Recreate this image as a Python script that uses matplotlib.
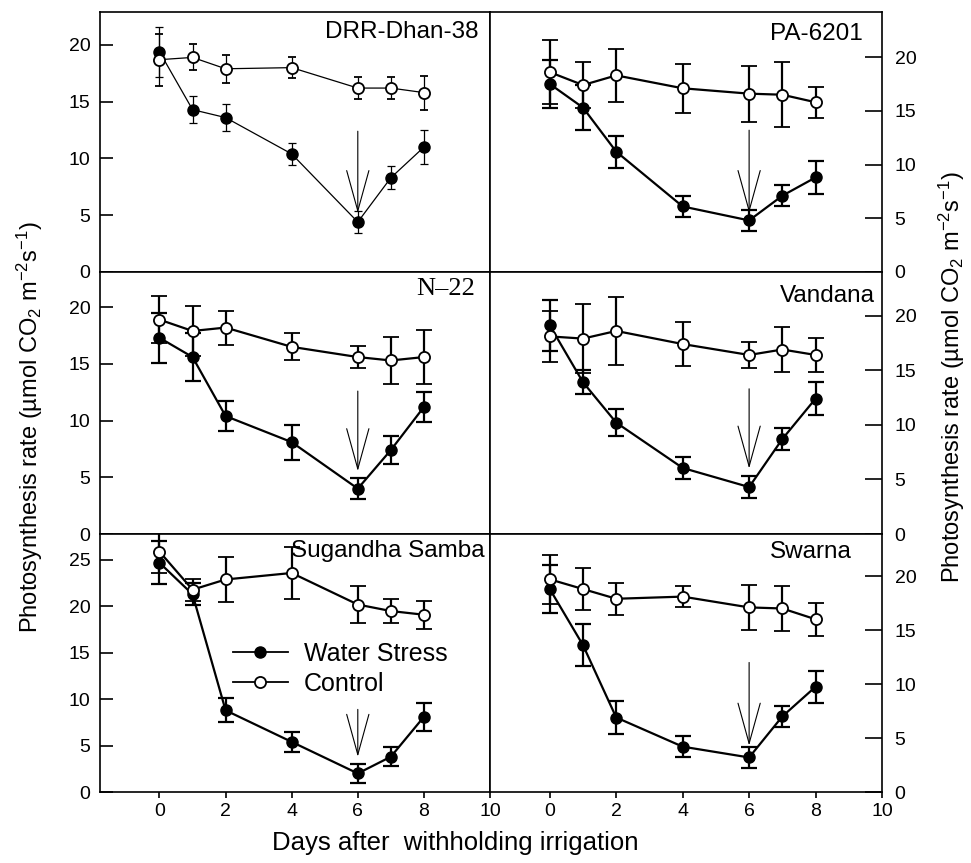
import matplotlib
matplotlib.use('Agg')
import matplotlib.pyplot as plt
from matplotlib.lines import Line2D

plt.rcParams['font.family'] = 'Liberation Sans'
plt.rcParams['mathtext.fontset'] = 'custom'
plt.rcParams['mathtext.rm'] = 'Liberation Sans'
plt.rcParams['mathtext.it'] = 'Liberation Sans:italic'
plt.rcParams['mathtext.default'] = 'regular'

# Sampling days after irrigation was withheld
days = [0, 1, 2, 4, 6, 7, 8]

# DRR-Dhan-38
ws_drr = [19.4, 14.3, 13.6, 10.4, 4.4, 8.3, 11.0]
ws_drr_err = [2.2, 1.2, 1.2, 1.0, 0.95, 1.0, 1.5]
ct_drr = [18.7, 18.9, 17.9, 18.0, 16.2, 16.2, 15.8]
ct_drr_err = [2.3, 1.15, 1.25, 0.95, 1.0, 1.0, 1.5]

# PA-6201
ws_pa = [17.5, 15.3, 11.2, 6.1, 4.8, 7.1, 8.8]
ws_pa_err = [2.2, 2.1, 1.5, 1.0, 1.0, 1.0, 1.5]
ct_pa = [18.6, 17.4, 18.3, 17.1, 16.6, 16.5, 15.8]
ct_pa_err = [3.0, 2.1, 2.45, 2.3, 2.6, 3.0, 1.45]

# N-22
ws_n22 = [17.3, 15.6, 10.4, 8.1, 4.0, 7.4, 11.2]
ws_n22_err = [2.2, 2.1, 1.3, 1.55, 0.95, 1.2, 1.3]
ct_n22 = [18.9, 17.9, 18.2, 16.5, 15.6, 15.3, 15.6]
ct_n22_err = [2.1, 2.2, 1.5, 1.2, 1.0, 2.1, 2.4]

# Vandana
ws_van = [19.1, 13.9, 10.2, 6.05, 4.3, 8.7, 12.4]
ws_van_err = [2.3, 1.1, 1.25, 1.0, 1.0, 1.0, 1.5]
ct_van = [18.1, 17.9, 18.6, 17.4, 16.4, 16.9, 16.4]
ct_van_err = [2.3, 3.15, 3.1, 2.0, 1.2, 2.1, 1.6]

# Sugandha Samba
ws_sug = [24.7, 21.3, 8.8, 5.4, 2.0, 3.8, 8.1]
ws_sug_err = [2.3, 1.2, 1.3, 1.1, 1.0, 1.0, 1.5]
ct_sug = [25.9, 21.8, 22.9, 23.6, 20.2, 19.5, 19.1]
ct_sug_err = [2.35, 1.2, 2.4, 2.75, 1.95, 1.3, 1.5]

# Swarna
ws_swa = [18.8, 13.6, 6.9, 4.2, 3.2, 7.0, 9.75]
ws_swa_err = [2.25, 1.95, 1.5, 1.0, 1.0, 1.0, 1.5]
ct_swa = [19.7, 18.8, 17.9, 18.1, 17.1, 17.0, 16.0]
ct_swa_err = [2.3, 1.95, 1.5, 1.0, 2.05, 2.1, 1.55]

# Arrow marking day 6 (start -> tip), one per variety
arrow_day = 6
arrow_start = [12.4, 13.2, 12.6, 13.3, 8.9, 12.0]
arrow_tip = [5.2, 5.5, 5.55, 6.0, 3.8, 4.3]

names = ['DRR-Dhan-38', 'PA-6201', 'N\u201322', 'Vandana', 'Sugandha Samba', 'Swarna']
ymax = [22.9, 24.2, 23.1, 24.0, 27.8, 23.9]

W, H = 971, 863
fig = plt.figure(figsize=(W / 100, H / 100), dpi=100)


def px_box(x0, y0, x1, y1):
    return [x0 / W, 1 - y1 / H, (x1 - x0) / W, (y1 - y0) / H]


boxes = [(100, 12, 490, 272), (490, 12, 882, 272),
         (100, 272, 490, 534), (490, 272, 882, 534),
         (100, 534, 490, 792), (490, 534, 882, 792)]

series = [(ws_drr, ws_drr_err, ct_drr, ct_drr_err),
          (ws_pa, ws_pa_err, ct_pa, ct_pa_err),
          (ws_n22, ws_n22_err, ct_n22, ct_n22_err),
          (ws_van, ws_van_err, ct_van, ct_van_err),
          (ws_sug, ws_sug_err, ct_sug, ct_sug_err),
          (ws_swa, ws_swa_err, ct_swa, ct_swa_err)]

# (right edge px, baseline px) for the variety names
name_pos = [(478, 38), (863, 40), (475, 295), (875, 302), (485, 557), (852, 558)]

for i, (box, (ws, wse, ct, cte)) in enumerate(zip(boxes, series)):
    ax = fig.add_axes(px_box(*box))
    right = i % 2 == 1
    bottom = i >= 4
    lw = 0.9 if i == 0 else 1.6
    cap = 3 if i == 0 else 6

    ax.errorbar(days, ws, yerr=wse, fmt='o-', color='k', mfc='k', mec='k',
                ms=8, lw=lw, elinewidth=lw, capsize=cap, capthick=lw, zorder=3)
    ax.errorbar(days, ct, yerr=cte, fmt='o-', color='k', mfc='white', mec='k',
                mew=1.3, ms=8, lw=lw, elinewidth=lw, capsize=cap, capthick=lw, zorder=4)

    ax.annotate('', xy=(arrow_day, arrow_tip[i]), xytext=(arrow_day, arrow_start[i]),
                arrowprops=dict(arrowstyle='->,head_length=2.9,head_width=0.8',
                                lw=0.8, color='k', mutation_scale=10,
                                shrinkA=0, shrinkB=0), zorder=5)

    ax.set_xlim(-1.8, 10)
    ax.set_ylim(0, ymax[i])
    ax.set_xticks([0, 2, 4, 6, 8, 10])
    step_top = 25 if ymax[i] > 26 else 20
    ax.set_yticks(list(range(0, step_top + 1, 5)))

    for sp in ax.spines.values():
        sp.set_linewidth(1.2)

    if right:
        ax.yaxis.tick_right()
        ax.tick_params(axis='y', direction='in', length=12, width=1.2,
                       labelsize=14, pad=9)
    else:
        ax.tick_params(axis='y', direction='in', length=9, width=1.2,
                       labelsize=14, pad=7)

    if bottom:
        ax.tick_params(axis='x', direction='out', length=4, width=1.2,
                       labelsize=14, pad=4)
    elif right:
        ax.tick_params(axis='x', length=0, labelbottom=False)
    else:
        ax.tick_params(axis='x', direction='out', length=4, width=1.2,
                       labelbottom=False)

    nx, ny = name_pos[i]
    if i == 2:
        fig.text(nx / W, 1 - ny / H, names[i], ha='right', va='baseline',
                 fontsize=19, family='Liberation Serif')
    else:
        fig.text(nx / W, 1 - ny / H, names[i], ha='right', va='baseline',
                 fontsize=17.5)

    if i == 4:
        handles = [Line2D([], [], color='k', lw=1.3, marker='o', ms=8, mfc='k', mec='k'),
                   Line2D([], [], color='k', lw=1.3, marker='o', ms=8, mfc='white',
                          mec='k', mew=1.3)]
        ax.legend(handles, ['Water Stress', 'Control'], loc='center left',
                  bbox_to_anchor=(0.341, 0.477), frameon=False, fontsize=18,
                  handlelength=2.2, handletextpad=0.65, labelspacing=0.25,
                  borderpad=0, borderaxespad=0)

ylab = 'Photosynthesis rate (\u00b5mol CO$_2$ m$^{-2}$s$^{-1}$)'
fig.text(30 / W, 1 - 427 / H, ylab, rotation=90, ha='center', va='center', fontsize=17)
fig.text(952 / W, 1 - 377 / H, ylab, rotation=90, ha='center', va='center', fontsize=17)
fig.text(455 / W, 1 - 843 / H, 'Days after  withholding irrigation',
         ha='center', va='center', fontsize=18.5)

fig.savefig('out.png', dpi=100)
